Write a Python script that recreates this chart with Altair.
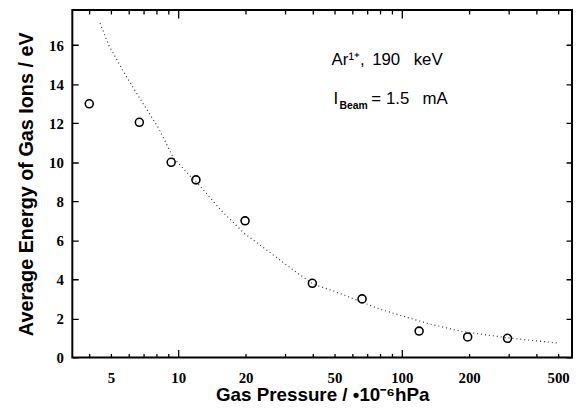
import altair as alt
import pandas as pd

# measured data points
pressure = [4.0, 6.7, 9.3, 12.0, 19.9, 39.8, 66.4, 119.5, 197.0, 297.0]
energy = [13.0, 12.05, 10.0, 9.1, 7.0, 3.8, 3.0, 1.35, 1.05, 0.98]

# dotted fit curve
curve_x = [4.47, 4.90, 5.81, 6.88, 8.16, 9.50, 11.45, 12.26, 15.55, 19.7, 25.9, 33.96,
           40.3, 49.3, 56.5, 79.4, 94.0, 132.0, 186.0, 299.0, 497.0]
curve_y = [17.13, 15.98, 14.47, 13.11, 11.76, 10.24, 9.23, 8.90, 7.54, 6.37, 5.35, 4.34,
           3.75, 3.41, 3.15, 2.48, 2.23, 1.72, 1.33, 1.00, 0.74]

x_labels = [5, 10, 20, 50, 100, 200, 500]
y_labels = [0, 2, 4, 6, 8, 10, 12, 14, 16]
x_major = [10, 100]
x_minor = [4, 5, 6, 7, 8, 9, 20, 30, 40, 50, 60, 70, 80, 90, 200, 300, 400, 500]
y_major = [0, 2, 4, 6, 8, 10, 12, 14, 16]
y_minor = [1, 3, 5, 7, 9, 11, 13, 15, 17]

W, H = 505, 351
X0, X1 = 3.36, 577.0
Y0, Y1 = 0.0, 17.8
FONT = "Liberation Sans"
NARROW = "Liberation Sans Narrow"

pts = pd.DataFrame({"p": pressure, "e": energy})
crv = pd.DataFrame({"p": curve_x, "e": curve_y})

xscale = alt.Scale(type="log", domain=[X0, X1], nice=False)
yscale = alt.Scale(domain=[Y0, Y1], nice=False, zero=False)


def arr(v):
    return "[" + ",".join(str(x) for x in v) + "]"


# inward frame ticks drawn as dashed grid lines: a short dash at each end of every grid line
xaxis = alt.Axis(
    values=sorted(x_major + x_minor), format="d", ticks=False, domain=False,
    grid=True, gridColor="black", gridWidth=1.3, gridOpacity=1,
    gridDash={"condition": {"test": f"indexof({arr(x_major)}, datum.value) >= 0",
                            "value": [8, H - 16, 8, 0]},
              "value": [4, H - 8, 4, 0]},
    labelExpr=f"indexof({arr(x_labels)}, datum.value) >= 0 ? datum.label : ''",
    labelFont=NARROW, labelFontWeight="bold", labelFontSize=15, labelColor="black",
    labelPadding=13, title="Gas Pressure / \u202210\u207b\u2076hPa",
    titleFont=FONT, titleFontWeight="bold", titleFontSize=19, titleColor="black",
    titlePadding=1, labelFlush=False, labelOverlap=False)
yaxis = alt.Axis(
    values=sorted(y_major + y_minor), ticks=False, domain=False,
    grid=True, gridColor="black", gridWidth=1.3, gridOpacity=1,
    gridDash={"condition": {"test": f"indexof({arr(y_major)}, datum.value) >= 0",
                            "value": [6, W - 12, 6, 0]},
              "value": [4, W - 8, 4, 0]},
    labelExpr=f"indexof({arr(y_labels)}, datum.value) >= 0 ? datum.label : ''",
    labelFont=NARROW, labelFontWeight="bold", labelFontSize=15, labelColor="black",
    labelPadding=9, title="Average Energy of Gas Ions / eV",
    titleFont=FONT, titleFontWeight="bold", titleFontSize=20, titleColor="black",
    titlePadding=12, labelFlush=False, labelOverlap=False)

curve = alt.Chart(crv).mark_line(strokeDash=[1, 3], strokeWidth=1.2, color="#333333").encode(
    x=alt.X("p:Q", scale=xscale, axis=xaxis),
    y=alt.Y("e:Q", scale=yscale, axis=yaxis),
)

points = alt.Chart(pts).mark_point(shape="circle", filled=False, color="black",
                                   strokeWidth=1.6, size=65, opacity=1).encode(
    x=alt.X("p:Q", scale=xscale),
    y=alt.Y("e:Q", scale=yscale),
)


def label(txt, x, y, size, weight="normal"):
    return alt.Chart(pd.DataFrame({"t": [txt]})).mark_text(
        align="left", baseline="alphabetic", font=FONT, fontSize=size,
        fontWeight=weight, color="black").encode(
        text="t:N", x=alt.value(x), y=alt.value(y))


texts = [
    label("Ar\u00b9\u207a,", 262, 55, 17),
    label("190", 303, 55, 17),
    label("keV", 345, 55, 17),
    label("I", 264, 95, 17),
    label("Beam", 270, 100, 10.5, "bold"),
    label("=", 302, 95, 17),
    label("1.5", 317, 95, 17),
    label("mA", 354, 95, 17),
]

chart = alt.layer(curve, points, *texts).properties(
    width=W, height=H,
    autosize=alt.AutoSizeParams(type="none"),
    padding={"left": 65, "top": 0, "right": 2, "bottom": 51},
).configure_view(stroke="black", strokeWidth=2)

chart.save("out.html", embed_options={"renderer": "svg", "actions": False})
